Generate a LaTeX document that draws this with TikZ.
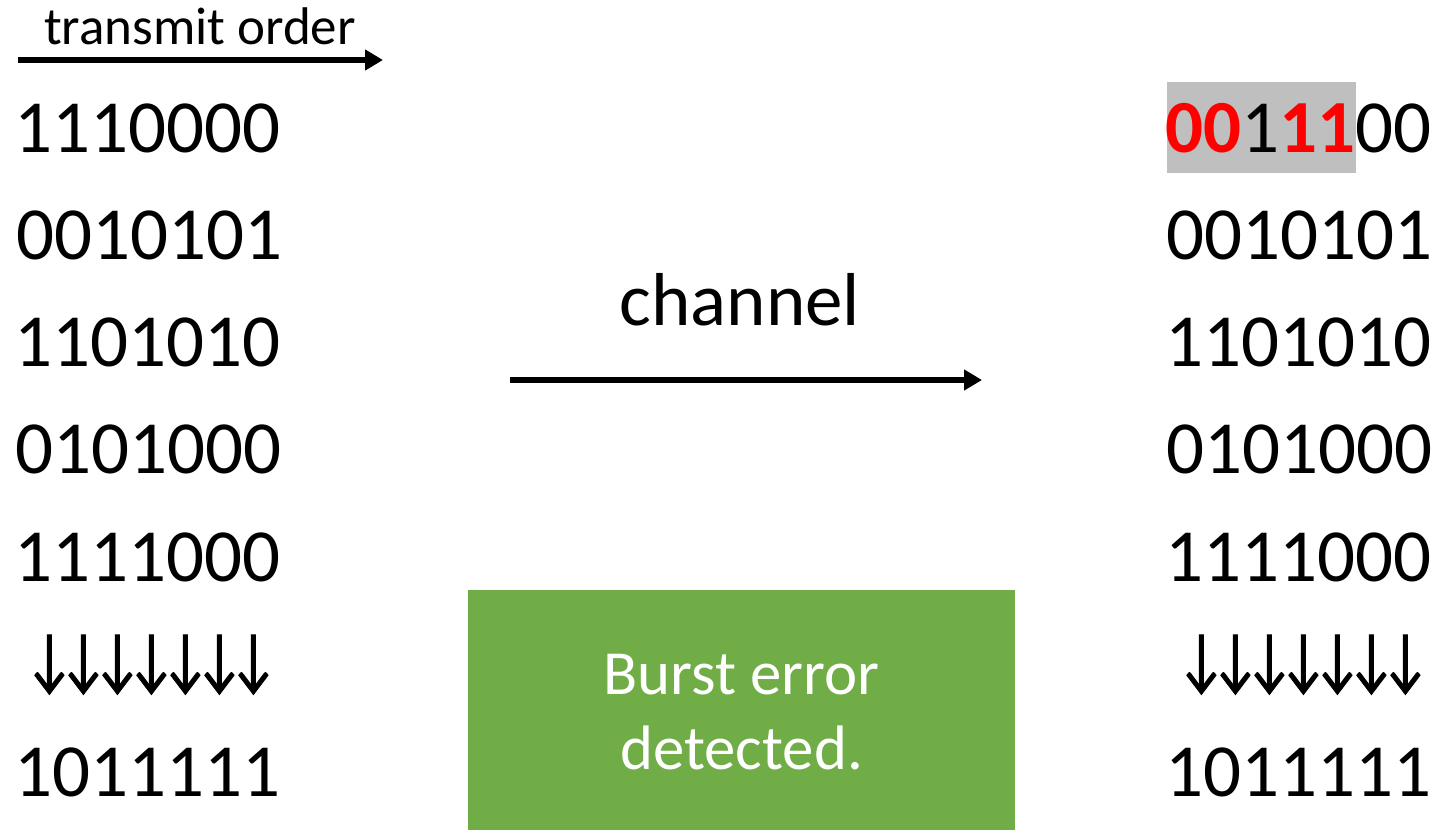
\documentclass[tikz,border=0pt]{standalone}
\usepackage{fontspec}
\setmainfont{Carlito}
\newfontfamily\arrfont[FakeBold=1.6]{Carlito}
\usetikzlibrary{arrows.meta}
\definecolor{burstgreen}{HTML}{70AD47}
\definecolor{hlgray}{HTML}{BFBFBF}
\newcommand{\darr}{\makebox[17pt][c]{\scalebox{0.72}[0.95]{\arrfont ↓}}}
\begin{document}
\begin{tikzpicture}[x=0.5pt,y=-0.5pt,
  bits/.style={anchor=base west, inner sep=0pt, font=\fontsize{37.5}{40}\selectfont},
  arr/.style={line width=3pt, -{Triangle[length=9pt,width=10pt]}}
]
\useasboundingbox (0,0) rectangle (1438,830);
% transmit order
\node (to) [anchor=base, inner sep=0pt, font=\fontsize{26.5}{30}\selectfont] at (200,44) {transmit order};
\coordinate (tos) at (18,60);
\coordinate (toe) at (383,60);
\draw[arr] (tos) -- (toe);
% left column
\node (l1) [bits] at (14,152) {1110000};
\node (l2) [bits] at (16,259.3) {0010101};
\node (l3) [bits] at (14,366.6) {1101010};
\node (l4) [bits] at (15,473.9) {0101000};
\node (l5) [bits] at (14,581.2) {1111000};
\node (l6) [bits] at (32,683) {\darr\darr\darr\darr\darr\darr\darr};
\node (l7) [bits] at (14,796) {1011111};
% right column
\node (hl) [fill=hlgray, anchor=north west, inner sep=0pt, minimum width=94.5pt, minimum height=45.5pt] at (1167,82) {};
\node (r1) [bits] at (1165,152) {{\color{red}\bfseries 00}1{\color{red}\bfseries 11}00};
\node (r2) [bits] at (1166,259.3) {0010101};
\node (r3) [bits] at (1165,366.6) {1101010};
\node (r4) [bits] at (1166,473.9) {0101000};
\node (r5) [bits] at (1165,581.2) {1111000};
\node (r6) [bits] at (1184,683) {\darr\darr\darr\darr\darr\darr\darr};
\node (r7) [bits] at (1165,796) {1011111};
% channel
\node (ch) [anchor=base, inner sep=0pt, font=\fontsize{37.5}{40}\selectfont] at (740,325) {channel};
\coordinate (chs) at (510,380);
\coordinate (che) at (982,380);
\draw[arr] (chs) -- (che);
% burst box
\node (box) [fill=burstgreen, anchor=north west, inner sep=0pt, minimum width=273.5pt, minimum height=120pt] at (468,590) {};
\node (msg) [text=white, align=center, inner sep=0pt, font=\fontsize{31.4}{37.5}\selectfont, anchor=base] at (741.5,769) {Burst error\\detected.};
\end{tikzpicture}
\end{document}
